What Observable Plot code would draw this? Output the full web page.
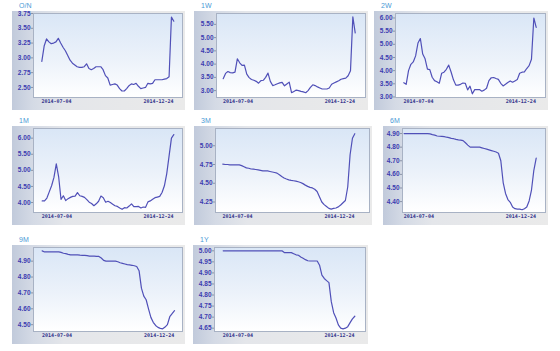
<!DOCTYPE html>
<html><head><meta charset="utf-8">
<script src="https://cdn.jsdelivr.net/npm/d3@7"></script>
<script src="https://cdn.jsdelivr.net/npm/@observablehq/plot@0.6"></script>
<style>
body{margin:0;background:#fff;}
#root{position:relative;width:560px;height:351px;overflow:hidden;background:#fff;}
.box{position:absolute;background:linear-gradient(to right,#c1cadb 0%,#d4dae5 12%,#e4e6ea 30%,#eaeaea 100%);}
.inner{position:absolute;background:linear-gradient(to bottom,#d9e6f6 0%,#ecf2fa 55%,#ffffff 100%);}
.box svg{position:absolute;left:0;top:0;}
.ttl{position:absolute;font:7px "Liberation Sans",Arial,sans-serif;color:#4a9ad6;line-height:7px;}
g[aria-label="y-axis tick label"] text{font:bold 6.5px "Liberation Sans",Arial,sans-serif;fill:#3c3cb0;}
g[aria-label="x-axis tick label"] text{font:bold 5px "DejaVu Sans Mono",monospace;fill:#34348c;}
</style>
</head><body><div id="root"></div>
<script>
const dates = ["2014-06-09","2014-06-13","2014-06-17","2014-06-21","2014-06-25","2014-06-29","2014-07-03","2014-07-07","2014-07-11","2014-07-15",
"2014-07-19","2014-07-23","2014-07-27","2014-07-31","2014-08-04","2014-08-08","2014-08-12","2014-08-16","2014-08-20","2014-08-24",
"2014-08-28","2014-09-01","2014-09-05","2014-09-09","2014-09-13","2014-09-17","2014-09-21","2014-09-25","2014-09-29","2014-10-03",
"2014-10-07","2014-10-11","2014-10-15","2014-10-19","2014-10-23","2014-10-27","2014-10-31","2014-11-04","2014-11-08","2014-11-12",
"2014-11-16","2014-11-20","2014-11-24","2014-11-28","2014-12-02","2014-12-06","2014-12-10","2014-12-14","2014-12-18","2014-12-22",
"2014-12-26","2014-12-30","2015-01-03","2015-01-07","2015-01-11","2015-01-15","2015-01-19"];

const dateTicks = ["2014-07-04","2014-12-24"];
const titles = ["O/N","1W","2W","1M","3M","6M","9M","1Y"];

const onValues = [2.94,3.20,3.32,3.27,3.24,3.25,3.27,3.33,3.25,3.18,
3.12,3.04,2.96,2.91,2.88,2.85,2.84,2.84,2.85,2.90,
2.82,2.80,2.82,2.85,2.85,2.85,2.80,2.70,2.66,2.54,
2.55,2.56,2.54,2.48,2.44,2.44,2.48,2.53,2.56,2.55,
2.57,2.52,2.48,2.49,2.50,2.57,2.56,2.57,2.63,2.63,
2.63,2.63,2.64,2.65,2.68,3.69,3.62];
const w1Values = [3.45,3.65,3.72,3.68,3.67,3.70,4.20,4.05,3.95,3.96,
3.62,3.49,3.42,3.39,3.35,3.28,3.38,3.39,3.50,3.66,
3.35,3.19,3.22,3.26,3.29,3.31,3.18,3.25,3.32,2.92,
2.97,3.02,3.00,2.97,2.95,2.92,3.00,3.12,3.22,3.19,
3.14,3.10,3.06,3.06,3.06,3.10,3.24,3.29,3.33,3.37,
3.43,3.45,3.47,3.56,3.75,5.78,5.18];
const w2Values = [3.54,3.48,4.00,4.24,4.33,4.56,5.05,5.22,4.63,4.45,
4.06,4.04,3.75,3.62,3.58,3.52,3.90,3.94,4.05,4.21,
3.95,3.65,3.45,3.45,3.48,3.53,3.52,3.27,3.41,3.12,
3.28,3.28,3.28,3.22,3.26,3.33,3.62,3.73,3.74,3.70,
3.67,3.52,3.42,3.48,3.55,3.61,3.56,3.61,3.66,3.90,
3.94,3.95,4.08,4.19,4.43,6.00,5.64];
const m1Values = [4.05,4.05,4.14,4.33,4.52,4.78,5.20,4.80,4.10,4.21,
4.06,4.12,4.16,4.19,4.20,4.31,4.21,4.19,4.16,4.09,
4.01,3.97,3.90,3.96,4.04,4.20,4.15,4.01,4.04,4.00,
3.95,3.90,3.88,3.83,3.79,3.84,3.83,3.89,3.96,3.87,
3.87,3.88,3.83,3.86,3.85,4.02,4.05,4.10,4.15,4.17,
4.19,4.31,4.52,4.90,5.45,6.00,6.11];
const m3Values = [4.755,4.75,4.75,4.745,4.745,4.745,4.745,4.745,4.735,4.72,
4.705,4.70,4.69,4.688,4.683,4.678,4.672,4.665,4.665,4.664,
4.657,4.65,4.643,4.635,4.612,4.59,4.57,4.556,4.545,4.538,
4.533,4.528,4.52,4.51,4.495,4.475,4.458,4.445,4.438,4.42,
4.39,4.32,4.25,4.215,4.19,4.165,4.155,4.165,4.17,4.185,
4.21,4.24,4.27,4.45,4.88,5.10,5.16];
const m6Values = [4.90,4.90,4.90,4.90,4.90,4.90,4.90,4.90,4.90,4.90,
4.90,4.897,4.892,4.888,4.882,4.88,4.879,4.877,4.873,4.87,
4.865,4.862,4.857,4.853,4.851,4.848,4.832,4.815,4.80,4.80,
4.80,4.80,4.80,4.795,4.79,4.785,4.78,4.775,4.77,4.764,
4.755,4.70,4.54,4.46,4.415,4.395,4.36,4.348,4.345,4.345,
4.34,4.348,4.36,4.405,4.485,4.63,4.72];
const m9Values = [4.965,4.958,4.958,4.958,4.958,4.958,4.958,4.958,4.955,4.95,
4.947,4.943,4.94,4.94,4.94,4.94,4.938,4.937,4.937,4.935,
4.932,4.932,4.932,4.93,4.93,4.92,4.905,4.90,4.90,4.90,
4.90,4.90,4.896,4.89,4.886,4.882,4.878,4.876,4.874,4.871,
4.866,4.84,4.73,4.68,4.657,4.60,4.546,4.515,4.495,4.483,
4.477,4.474,4.485,4.50,4.55,4.57,4.588];
const y1Values = [5.00,5.00,5.00,5.00,5.00,5.00,5.00,5.00,5.00,5.00,
5.00,5.00,5.00,5.00,5.00,5.00,5.00,5.00,5.00,5.00,
5.00,5.00,5.00,5.00,5.00,5.00,4.992,4.992,4.992,4.992,
4.987,4.982,4.98,4.972,4.966,4.96,4.955,4.954,4.954,4.954,
4.954,4.935,4.89,4.875,4.865,4.856,4.77,4.72,4.696,4.665,
4.65,4.647,4.65,4.657,4.675,4.692,4.704];

const onTicks = [2.50,2.75,3.00,3.25,3.50,3.75];
const w1Ticks = [3.00,3.50,4.00,4.50,5.00,5.50];
const w2Ticks = [3.00,3.50,4.00,4.50,5.00,5.50,6.00];
const m1Ticks = [4.00,4.50,5.00,5.50,6.00];
const m3Ticks = [4.25,4.50,4.75,5.00];
const m6Ticks = [4.40,4.50,4.60,4.70,4.80,4.90];
const m9Ticks = [4.50,4.60,4.70,4.80,4.90];
const y1Ticks = [4.65,4.70,4.75,4.80,4.85,4.90,4.95,5.00];

const seriesValues = [onValues,w1Values,w2Values,m1Values,m3Values,m6Values,m9Values,y1Values];
const seriesTicks = [onTicks,w1Ticks,w2Ticks,m1Ticks,m3Ticks,m6Ticks,m9Ticks,y1Ticks];
const yDomains = [[2.33,3.75],[2.74,5.91],[2.98,6.17],[3.69,6.30],[4.11,5.23],[4.32,4.937],[4.457,4.986],[4.635,5.015]];

// layout: frame [left,right,top,bottom], line pixel extent [start,end], gray box left
const layout = [
  {f:[33,182,13,97],  l:[41.3,173.3], gl:12},
  {f:[216,365,13,97], l:[222.7,354.7], gl:194},
  {f:[395,545,13,97], l:[403.3,535.7], gl:374},
  {f:[33,182,128,212], l:[41.7,173.3], gl:12},
  {f:[215,369,128,212], l:[222.3,354.3], gl:194},
  {f:[402,545,128,212], l:[403.6,535.7], gl:383},
  {f:[33,182,247,331], l:[41.7,174], gl:12},
  {f:[214,365,247,331], l:[222.7,354.3], gl:193}
];

const root = document.getElementById("root");
const parsedDates = dates.map(d => new Date(d));
const tickDates = dateTicks.map(d => new Date(d));
const fmt = d3.utcFormat("%Y-%m-%d");

titles.forEach((name, k) => {
  const L = layout[k];
  const [fl, fr, ft, fb] = L.f;
  const gl = L.gl, gr = fr + 3, gt = ft - 2, gb = fb + 13;
  const gw = gr - gl, gh = gb - gt;
  const t0 = +parsedDates[0], t1 = +parsedDates[parsedDates.length - 1];
  const pxPerMs = (L.l[1] - L.l[0]) / (t1 - t0);
  const d0 = new Date(t0 - (L.l[0] - fl) / pxPerMs);
  const d1 = new Date(t1 + (fr - L.l[1]) / pxPerMs);
  const data = parsedDates.map((d, i) => ({date: d, v: seriesValues[k][i]}));

  const box = document.createElement("div");
  box.className = "box";
  Object.assign(box.style, {left: gl + "px", top: gt + "px", width: gw + "px", height: gh + "px"});
  const inner = document.createElement("div");
  inner.className = "inner";
  Object.assign(inner.style, {left: (fl - gl) + "px", top: (ft - gt) + "px", width: (fr - fl) + "px", height: (fb - ft) + "px"});
  box.appendChild(inner);

  const chart = Plot.plot({
    width: gw, height: gh,
    marginLeft: fl - gl, marginRight: gr - fr, marginTop: ft - gt, marginBottom: gb - fb,
    style: {background: "transparent", overflow: "visible"},
    x: {type: "utc", domain: [d0, d1]},
    y: {domain: yDomains[k]},
    marks: [
      Plot.frame({stroke: "#a8b2c4", strokeWidth: 1}),
      Plot.line(data, {x: "date", y: "v", stroke: "#5050b8", strokeWidth: 1.2}),
      Plot.axisY({ticks: seriesTicks[k], tickFormat: d3.format(".2f"), tickSize: 2, tickPadding: 1, stroke: "#8a93a8", label: null}),
      Plot.axisX({ticks: tickDates, tickFormat: fmt, tickSize: 0, tickPadding: 2, label: null})
    ]
  });
  box.appendChild(chart);
  root.appendChild(box);

  const ttl = document.createElement("div");
  ttl.className = "ttl";
  ttl.textContent = name;
  Object.assign(ttl.style, {left: (gl + 7) + "px", top: (gt - 9) + "px"});
  root.appendChild(ttl);
});
</script>
</body></html>
